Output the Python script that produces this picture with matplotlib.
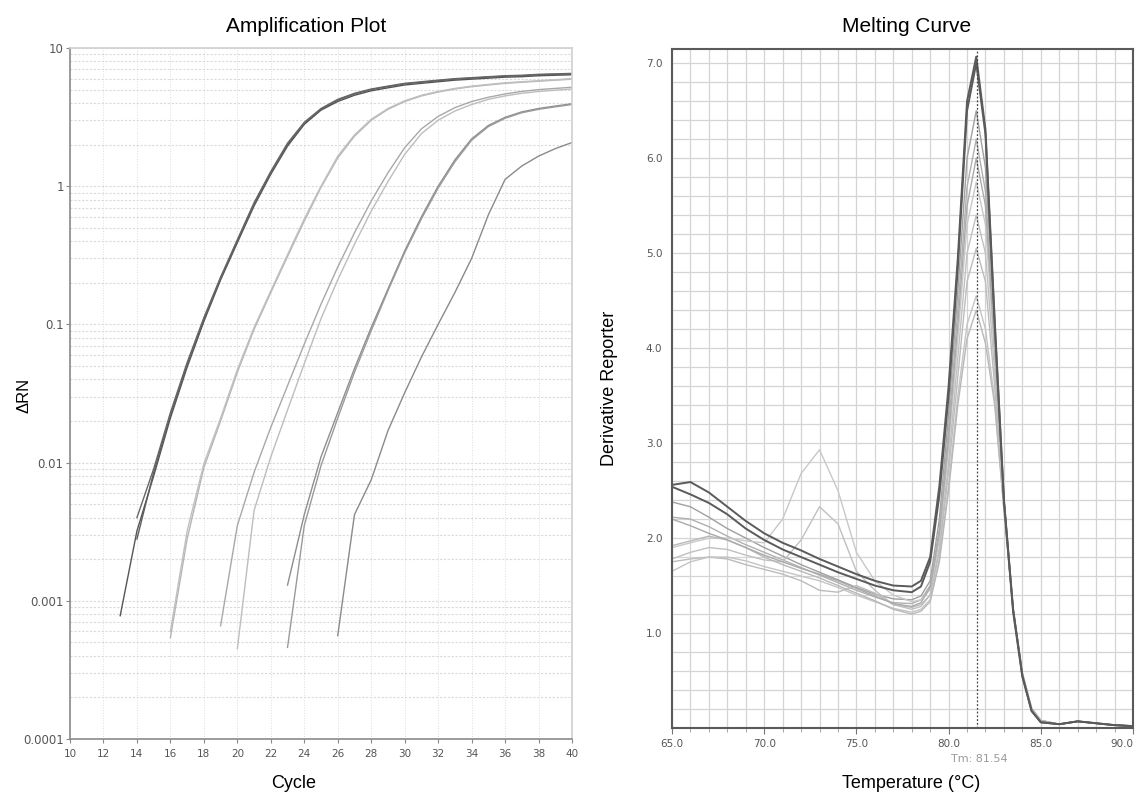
import numpy as np
import matplotlib.pyplot as plt
from matplotlib.ticker import FixedLocator, NullFormatter

plt.rcParams['font.family'] = ['Liberation Sans', 'DejaVu Sans']
narrow = ['Liberation Sans Narrow', 'DejaVu Sans']

# ---------------- amplification data (delta Rn per cycle) ----------------
amp_start = [13, 14, 14, 16, 16, 19, 20, 23, 23, 26]
amp_values = [
    [0.00078, 0.0032, 0.0080, 0.021, 0.049, 0.105, 0.21, 0.39, 0.72, 1.22, 1.95, 2.8, 3.55, 4.1,
     4.55, 4.9, 5.15, 5.4, 5.55, 5.7, 5.85, 5.95, 6.05, 6.15, 6.2, 6.3, 6.35, 6.4],
    [0.0028, 0.0085, 0.022, 0.051, 0.108, 0.215, 0.40, 0.74, 1.25, 2.0, 2.85, 3.6, 4.2, 4.65,
     5.0, 5.25, 5.5, 5.65, 5.8, 5.95, 6.05, 6.15, 6.25, 6.3, 6.4, 6.45, 6.5],
    [0.0040, 0.0090, 0.023, 0.053, 0.112, 0.22, 0.41, 0.76, 1.28, 2.05, 2.9, 3.65, 4.25, 4.7,
     5.05, 5.3, 5.55, 5.7, 5.85, 6.0, 6.1, 6.2, 6.3, 6.35, 6.45, 6.5, 6.55],
    [0.00054, 0.0028, 0.0092, 0.020, 0.045, 0.092, 0.17, 0.31, 0.56, 0.98, 1.6, 2.3, 3.0, 3.6,
     4.1, 4.5, 4.8, 5.05, 5.25, 5.4, 5.55, 5.65, 5.75, 5.85, 5.95],
    [0.0006, 0.0032, 0.0098, 0.021, 0.047, 0.095, 0.175, 0.32, 0.58, 1.0, 1.65, 2.35, 3.05, 3.65,
     4.15, 4.55, 4.85, 5.1, 5.3, 5.45, 5.6, 5.7, 5.8, 5.9, 6.0],
    [0.00066, 0.0035, 0.0085, 0.018, 0.036, 0.072, 0.14, 0.26, 0.46, 0.78, 1.25, 1.9, 2.6, 3.2,
     3.7, 4.1, 4.4, 4.65, 4.85, 5.0, 5.1, 5.2],
    [0.00045, 0.0045, 0.011, 0.024, 0.052, 0.11, 0.21, 0.38, 0.66, 1.08, 1.7, 2.4, 3.0, 3.5,
     3.9, 4.25, 4.5, 4.7, 4.85, 4.95, 5.05],
    [0.0013, 0.0042, 0.011, 0.023, 0.048, 0.095, 0.18, 0.34, 0.6, 1.0, 1.55, 2.2, 2.75, 3.15,
     3.45, 3.65, 3.8, 3.95],
    [0.00046, 0.0035, 0.0095, 0.021, 0.045, 0.09, 0.175, 0.33, 0.58, 0.97, 1.5, 2.15, 2.7, 3.1,
     3.4, 3.6, 3.75, 3.9],
    [0.00056, 0.0042, 0.0075, 0.017, 0.032, 0.058, 0.1, 0.17, 0.3, 0.62, 1.12, 1.4, 1.65, 1.87, 2.07],
]
amp_colors = ['#555555', '#5e5e5e', '#666666', '#b5b5b5', '#c0c0c0',
              '#a8a8a8', '#bdbdbd', '#8e8e8e', '#9a9a9a', '#8a8a8a']

# ---------------- melt curve data (derivative reporter) ----------------
temps = [65, 66, 67, 68, 69, 70, 71, 72, 73, 74, 75, 76, 77, 78, 78.5, 79, 79.5, 80, 80.5,
         81, 81.5, 82, 82.5, 83, 83.5, 84, 84.5, 85, 86, 87, 88, 89, 90]
melt_dark = [
    [2.56, 2.59, 2.48, 2.33, 2.18, 2.05, 1.95, 1.87, 1.78, 1.70, 1.62, 1.55, 1.50, 1.49, 1.55,
     1.8, 2.55, 3.6, 4.95, 6.6, 7.07, 6.3, 4.3, 2.4, 1.25, 0.55, 0.18, 0.06, 0.04, 0.07, 0.05, 0.03, 0.02],
    [2.54, 2.46, 2.37, 2.25, 2.10, 1.98, 1.88, 1.80, 1.72, 1.64, 1.57, 1.50, 1.45, 1.43, 1.49,
     1.75, 2.45, 3.5, 4.85, 6.5, 7.0, 6.25, 4.25, 2.4, 1.22, 0.54, 0.18, 0.06, 0.04, 0.07, 0.05, 0.03, 0.02],
]
melt_light = [
    [2.38, 2.33, 2.22, 2.10, 2.00, 1.90, 1.81, 1.72, 1.64, 1.56, 1.48, 1.41, 1.36, 1.35, 1.39,
     1.55, 2.2, 3.3, 4.6, 6.0, 6.5, 5.9, 4.15, 2.4, 1.25, 0.56, 0.19, 0.07, 0.04, 0.07, 0.05, 0.03, 0.02],
    [2.22, 2.20, 2.12, 2.02, 1.93, 1.85, 1.77, 1.69, 1.61, 1.53, 1.45, 1.38, 1.32, 1.31, 1.35,
     1.5, 2.1, 3.15, 4.4, 5.7, 6.2, 5.65, 4.05, 2.4, 1.25, 0.56, 0.19, 0.07, 0.04, 0.07, 0.05, 0.03, 0.02],
    [1.90, 1.95, 2.00, 2.00, 1.97, 1.95, 2.2, 2.68, 2.93, 2.5, 1.85, 1.55, 1.40, 1.33, 1.35,
     1.46, 1.98, 2.95, 4.1, 5.3, 5.75, 5.3, 3.9, 2.35, 1.25, 0.57, 0.2, 0.07, 0.04, 0.07, 0.05, 0.03, 0.02],
    [1.78, 1.85, 1.90, 1.88, 1.82, 1.77, 1.75, 1.98, 2.33, 2.15, 1.65, 1.45, 1.30, 1.25, 1.28,
     1.4, 1.9, 2.8, 3.9, 5.0, 5.4, 5.0, 3.75, 2.35, 1.25, 0.57, 0.2, 0.08, 0.04, 0.07, 0.05, 0.03, 0.02],
    [1.75, 1.78, 1.80, 1.78, 1.72, 1.67, 1.62, 1.55, 1.45, 1.43, 1.50, 1.42, 1.30, 1.27, 1.3,
     1.4, 1.85, 2.7, 3.7, 4.7, 5.05, 4.7, 3.6, 2.3, 1.25, 0.58, 0.21, 0.08, 0.04, 0.07, 0.05, 0.03, 0.02],
    [1.65, 1.75, 1.80, 1.80, 1.76, 1.70, 1.65, 1.60, 1.55, 1.48, 1.40, 1.33, 1.26, 1.22, 1.25,
     1.35, 1.78, 2.55, 3.5, 4.25, 4.55, 4.2, 3.45, 2.3, 1.25, 0.58, 0.21, 0.08, 0.04, 0.07, 0.05, 0.03, 0.02],
    [1.92, 1.97, 2.02, 1.98, 1.90, 1.80, 1.72, 1.65, 1.58, 1.50, 1.42, 1.34, 1.25, 1.20, 1.23,
     1.33, 1.75, 2.5, 3.4, 4.1, 4.4, 4.05, 3.4, 2.3, 1.25, 0.58, 0.21, 0.08, 0.04, 0.07, 0.05, 0.03, 0.02],
    [2.20, 2.13, 2.05, 1.98, 1.90, 1.82, 1.75, 1.68, 1.62, 1.55, 1.47, 1.39, 1.31, 1.28, 1.32,
     1.48, 2.05, 3.05, 4.25, 5.5, 6.0, 5.5, 4.0, 2.4, 1.25, 0.56, 0.19, 0.07, 0.04, 0.07, 0.05, 0.03, 0.02],
]
light_colors = ['#a0a0a0', '#b0b0b0', '#c8c8c8', '#c0c0c0', '#bcbcbc', '#c4c4c4', '#b8b8b8', '#aaaaaa']
tm = 81.54

amp_xticks = list(range(10, 41, 2))
amp_yticks = [0.0001, 0.001, 0.01, 0.1, 1, 10]
amp_ylabels = ['0.0001', '0.001', '0.01', '0.1', '1', '10']
melt_xticks = [65, 70, 75, 80, 85, 90]
melt_yticks = [1, 2, 3, 4, 5, 6, 7]

fig = plt.figure(figsize=(11.4, 7.97), dpi=100)

# ================= Amplification plot =================
ax1 = fig.add_axes([70 / 1140, 1 - 739 / 797, 502 / 1140, 691 / 797])
ax1.set_yscale('log')
ax1.set_xlim(10, 40)
ax1.set_ylim(0.0001, 10)

for s, vals, c in zip(amp_start, amp_values, amp_colors):
    cyc = list(range(s, s + len(vals)))
    ax1.plot(cyc, vals, color=c, lw=1.0)

ax1.set_xticks(amp_xticks)
ax1.set_xticklabels([str(t) for t in amp_xticks], fontsize=7.5, family=narrow, color='#555555')
ax1.yaxis.set_major_locator(FixedLocator(amp_yticks))
ax1.set_yticklabels(amp_ylabels, fontsize=8.5, family=narrow, color='#555555')
minor = [m * 10.0 ** e for e in range(-4, 1) for m in range(2, 10)]
ax1.yaxis.set_minor_locator(FixedLocator(minor))
ax1.yaxis.set_minor_formatter(NullFormatter())
ax1.tick_params(axis='y', which='minor', length=0)
ax1.tick_params(axis='y', which='major', length=3, color='#888888', pad=1.5)
ax1.tick_params(axis='x', which='major', length=3, color='#888888', pad=4)
ax1.grid(True, which='major', axis='x', color='#dddddd', lw=0.7, ls=':')
ax1.grid(True, which='both', axis='y', color='#dadada', lw=0.8, ls=(0, (2, 1.5)))
for side in ['left', 'bottom']:
    ax1.spines[side].set_color('#8a8a8a')
    ax1.spines[side].set_linewidth(1.2)
for side in ['top', 'right']:
    ax1.spines[side].set_color('#d0d0d0')
    ax1.spines[side].set_linewidth(1.2)

fig.text(306 / 1140, 1 - 27 / 797, 'Amplification Plot', ha='center', va='center', fontsize=15)
fig.text(294 / 1140, 1 - 783 / 797, 'Cycle', ha='center', va='center', fontsize=13)
fig.text(24 / 1140, 1 - 395 / 797, 'ΔRN', ha='center', va='center', rotation=90, fontsize=12)

# ================= Melting curve =================
ax2 = fig.add_axes([672 / 1140, 1 - 728 / 797, 461 / 1140, 679 / 797])
ax2.set_xlim(65, 90)
ax2.set_ylim(0, 7.15)
ax2.set_xticks(melt_xticks)
ax2.set_xticklabels(['%.1f' % t for t in melt_xticks], fontsize=7.5, family=narrow, color='#555555')
ax2.get_xticklabels()[-1].set_horizontalalignment('right')
ax2.set_yticks(melt_yticks)
ax2.set_yticklabels(['%.1f' % t for t in melt_yticks], fontsize=7.5, family=narrow, color='#555555')
ax2.xaxis.set_minor_locator(FixedLocator(list(range(65, 91))))
ax2.yaxis.set_minor_locator(FixedLocator([i / 5 for i in range(0, 36)]))
ax2.tick_params(axis='x', which='major', length=4, color='#777777', pad=4)
ax2.tick_params(axis='x', which='minor', length=3, color='#999999')
ax2.tick_params(axis='y', which='major', length=0, pad=7)
ax2.tick_params(axis='y', which='minor', length=0)
ax2.grid(True, which='both', color='#d4d4d4', lw=0.9)
ax2.set_axisbelow(True)

for vals, c in zip(melt_light, light_colors):
    ax2.plot(temps, vals, color=c, lw=1.0)
for vals in melt_dark:
    ax2.plot(temps, vals, color='#5a5a5a', lw=1.4)

ax2.axvline(tm, color='#444444', lw=0.9, ls=(0, (1.5, 1.5)))
for side in ax2.spines.values():
    side.set_color('#5a5a5a')
    side.set_linewidth(1.5)

ax2.text(tm + 0.15, -0.33, 'Tm: %.2f' % tm, ha='center', va='center', fontsize=8,
         family=narrow, color='#999999')

fig.text(907 / 1140, 1 - 27 / 797, 'Melting Curve', ha='center', va='center', fontsize=15)
fig.text(911 / 1140, 1 - 783 / 797, 'Temperature (°C)', ha='center', va='center', fontsize=13)
fig.text(609 / 1140, 1 - 388 / 797, 'Derivative Reporter', ha='center', va='center',
         rotation=90, fontsize=13)

fig.savefig('out.png', dpi=100)
